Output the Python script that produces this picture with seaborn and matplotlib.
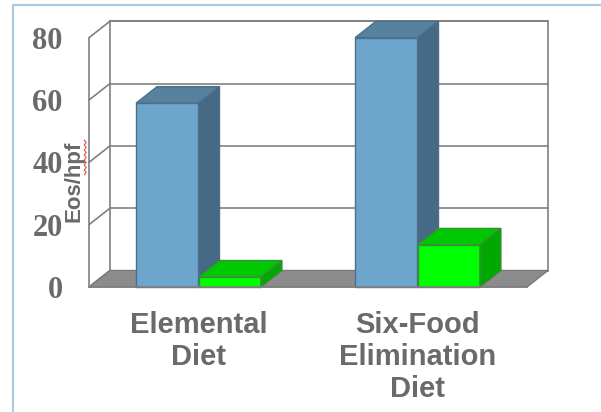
import matplotlib
matplotlib.use("Agg")
import numpy as np
import pandas as pd
import matplotlib.pyplot as plt
import seaborn as sns
from matplotlib.patches import Polygon
from matplotlib.lines import Line2D

# ---- data -------------------------------------------------------------
diets = ["Elemental\nDiet", "Six-Food\nElimination\nDiet"]
phases = ["Baseline", "After diet"]
baseline_eos = [59, 80]
after_eos = [3.2, 13.5]
y_ticks = [0, 20, 40, 60, 80]

df = pd.DataFrame({
    "diet": diets * 2,
    "phase": [phases[0]] * len(diets) + [phases[1]] * len(diets),
    "eos": baseline_eos + after_eos,
})

# ---- styling ----------------------------------------------------------
sns.set_theme(style="white")
plt.rcParams["font.family"] = ["Liberation Sans", "DejaVu Sans"]

front_colors = ["#6EA5CD", "#00FF00"]
top_colors = ["#56819F", "#00C800"]
side_colors = ["#466A86", "#00A800"]
edge_colors = ["#4D6F8A", "#3C8C3C"]
grid_col = "#808080"
text_col = "#6A6A6A"

W, H = 601, 412
fig = plt.figure(figsize=(W / 100, H / 100), dpi=100)
fig.patch.set_facecolor("white")

# front plane of the 3-D box, in pixels
left_px, right_px, zero_px, top_px = 89, 527, 287, 37.7
ax = fig.add_axes([left_px / W, (H - zero_px) / H,
                   (right_px - left_px) / W, (zero_px - top_px) / H])
ax.set_facecolor("none")

sns.barplot(data=df, x="diet", y="eos", hue="phase", palette=front_colors,
            width=0.57, saturation=1, errorbar=None, legend=False, ax=ax)
bars = list(ax.patches)

x0, x1 = -0.5, len(diets) - 0.5
ymax = y_ticks[-1]
ax.set_xlim(x0, x1)
ax.set_ylim(0, ymax)

# depth offset of the box, converted to data units
DX_PX, DY_PX = 21, 16.5
dx = DX_PX / ((right_px - left_px) / (x1 - x0))
dy = DY_PX / ((zero_px - top_px) / ymax)

# back wall
ax.add_patch(Polygon([(x0 + dx, dy), (x1 + dx, dy), (x1 + dx, ymax + dy), (x0 + dx, ymax + dy)],
                     closed=True, facecolor="white", edgecolor=grid_col, lw=1.2,
                     clip_on=False, zorder=1))
for v in y_ticks:
    ax.plot([x0 + dx, x1 + dx], [v + dy, v + dy], color=grid_col, lw=1.2,
            clip_on=False, zorder=1.5)
    ax.plot([x0, x0 + dx], [v, v + dy], color=grid_col, lw=1.2,
            clip_on=False, zorder=1.5)

# floor
ax.add_patch(Polygon([(x0, 0), (x1, 0), (x1 + dx, dy), (x0 + dx, dy)], closed=True,
                     facecolor="#8C8C8C", edgecolor="#7A7A7A", lw=1,
                     clip_on=False, zorder=2))

# extrude each bar: front face from seaborn, plus top and side faces
n = len(diets)
order = sorted(range(len(bars)), key=lambda i: bars[i].get_x())
for rank, i in enumerate(order):
    p = bars[i]
    ph = i // n
    bx, bw, bh = p.get_x(), p.get_width(), p.get_height()
    z = 5 + 3 * rank
    p.set_zorder(z)
    p.set_edgecolor(edge_colors[ph])
    p.set_linewidth(1)
    p.set_clip_on(False)
    top = Polygon([(bx, bh), (bx + bw, bh), (bx + bw + dx, bh + dy), (bx + dx, bh + dy)],
                  closed=True, facecolor=top_colors[ph], edgecolor=edge_colors[ph],
                  lw=1, clip_on=False, zorder=z + 1)
    side = Polygon([(bx + bw, 0), (bx + bw + dx, dy), (bx + bw + dx, bh + dy), (bx + bw, bh)],
                   closed=True, facecolor=side_colors[ph], edgecolor=edge_colors[ph],
                   lw=1, clip_on=False, zorder=z + 1)
    ax.add_patch(top)
    ax.add_patch(side)

# axes
for s in ["top", "right"]:
    ax.spines[s].set_visible(False)
for s in ["left", "bottom"]:
    ax.spines[s].set_color(grid_col)
    ax.spines[s].set_linewidth(1.2)
    ax.spines[s].set_zorder(30)

ax.set_yticks(y_ticks)
ax.tick_params(axis="y", length=6, width=1.2, color=grid_col, pad=13,
               labelsize=22, labelcolor=text_col)
for lbl in ax.get_yticklabels():
    lbl.set_fontfamily(["Liberation Serif", "DejaVu Serif"])
    lbl.set_fontweight("bold")

ax.set_xticks(range(n))
ax.set_xticklabels(diets, fontsize=21, fontweight="bold", color=text_col,
                   linespacing=1.2)
ax.tick_params(axis="x", which="major", length=0, pad=17)
ax.set_xticks([x0 + k for k in range(n + 1)], minor=True)
ax.tick_params(axis="x", which="minor", length=7, width=1.2, color=grid_col)

ax.set_xlabel("")
ax.set_ylabel("Eos/hpf", fontsize=16, fontweight="bold", color=text_col)
ax.yaxis.set_label_coords((84.5 - left_px) / (right_px - left_px),
                          (zero_px - 181) / (zero_px - top_px))

# spell-check squiggle under "hpf"
sq_y = np.linspace(140, 175, 15)
sq_x = np.where(np.arange(sq_y.size) % 2 == 0, 84.2, 86.2)
fig.add_artist(Line2D(sq_x / W, 1 - sq_y / H, color="#E05050", lw=0.8))

# slide frame
frame = "#A9CBE8"
fig.add_artist(Line2D([13 / W, 13 / W], [0, 1 - 5 / H], color=frame, lw=1.6))
fig.add_artist(Line2D([13 / W, 1], [1 - 5 / H, 1 - 5 / H], color=frame, lw=1.6))

fig.savefig("out.png", dpi=100)
